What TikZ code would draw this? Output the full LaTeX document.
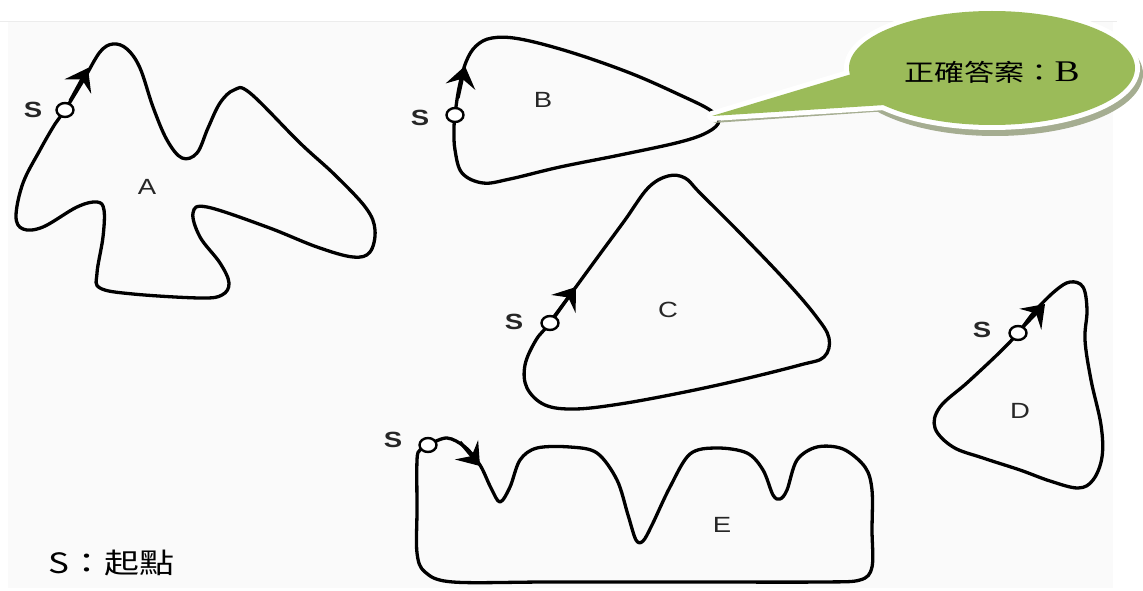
\documentclass[tikz,border=0pt]{standalone}
\usepackage{fontspec}
\setmainfont{Liberation Sans}
\newfontfamily\cjk{Noto Sans CJK TC}
\newfontfamily\serifB{Liberation Serif}
\usetikzlibrary{arrows.meta,shapes.geometric}
\definecolor{callgreen}{RGB}{155,187,89}
\definecolor{callshadow}{RGB}{165,173,145}
\definecolor{framebg}{RGB}{250,250,250}
\definecolor{framelin}{RGB}{236,236,236}
\newcommand\hstretch[1]{\scalebox{1.25}[1]{#1}}
\begin{document}
\begin{tikzpicture}[x=1pt,y=-1pt,
  curve/.style={line width=3.3pt, black, line join=round},
  tipline/.style={line width=3.3pt, black, -{Stealth[length=21pt,width=30pt,inset=8pt]}},
  startpt/.style={ellipse, draw=black, line width=2.4pt, fill=white, minimum width=17pt, minimum height=14pt, inner sep=0pt},
  slabel/.style={font=\fontsize{22}{22}\selectfont\bfseries, text=black!85, inner sep=0pt},
  shapelabel/.style={font=\fontsize{22}{22}\selectfont, text=black!85, inner sep=0pt}]
\useasboundingbox (0,0) rectangle (1143,591);
\fill[framebg] (8,22) rectangle (1113,588);
\draw[framelin, line width=1pt] (0,22) -- (1117,22);

% ---- Shape A
\draw[curve] plot[smooth cycle, tension=0.6] coordinates {
 (65,110) (84,79) (100,52) (113,44) (127,49) (140,68) (153,107) (167,140) (182,158)
 (197,153) (208,128) (220,103) (234,90) (250,93) (300,143) (335,175) (366,208) (375,230)
 (370,252) (353,257) (317,247) (267,227) (207,207) (193,213) (200,237) (220,263) (229,283)
 (222,295) (200,298) (133,294) (100,288) (97,273) (103,237) (104,210) (97,202) (77,207)
 (43,227) (23,229) (16,216) (23,183) (40,150) (55,124)};
\coordinate (aA1) at (70,101); \coordinate (aA2) at (88,68);
\draw[tipline] (aA1) -- (aA2);
\node[startpt] (pA) at (65,110) {};
\node[slabel] (sA) at (33,110) {\hstretch{S}};
\node[shapelabel] (lA) at (147,187) {\hstretch{A}};

% ---- Shape B
\draw[curve] plot[smooth cycle, tension=0.6] coordinates {
 (455,115) (459,88) (466,62) (476,46) (492,38) (520,39) (570,52) (630,73) (680,95)
 (710,110) (719,121) (708,132) (680,142) (620,155) (560,167) (510,179) (483,183)
 (462,173) (455,150) (454,130)};
\coordinate (aB1) at (458,98); \coordinate (aB2) at (465,66);
\draw[tipline] (aB1) -- (aB2);
\node[startpt] (pB) at (455,115) {};
\node[slabel] (sB) at (420,118) {\hstretch{S}};
\node[shapelabel] (lB) at (543,100) {\hstretch{B}};

% ---- Shape C
\draw[curve] plot[smooth cycle, tension=0.6] coordinates {
 (550,323) (573,291) (600,254) (625,220) (648,188) (668,176) (685,178) (700,193)
 (740,233) (785,280) (815,315) (829,338) (824,357) (800,365) (740,380) (680,393)
 (620,404) (575,409) (545,405) (527,388) (525,365) (536,340)};
\coordinate (aC1) at (553,318); \coordinate (aC2) at (576,287);
\draw[tipline] (aC1) -- (aC2);
\node[startpt] (pC) at (550,323) {};
\node[slabel] (sC) at (514,322) {\hstretch{S}};
\node[shapelabel] (lC) at (668,310) {\hstretch{C}};

% ---- Shape D
\draw[curve] plot[smooth cycle, tension=0.6] coordinates {
 (1018,333) (1035,311) (1055,291) (1070,282) (1083,287) (1087,310) (1085,340)
 (1091,380) (1101,425) (1102,457) (1093,480) (1078,488) (1050,481) (1020,470)
 (983,458) (953,447) (935,428) (940,407) (968,382) (1000,352)};
\coordinate (aD1) at (1022,328); \coordinate (aD2) at (1045,304);
\draw[tipline] (aD1) -- (aD2);
\node[startpt] (pD) at (1018,333) {};
\node[slabel] (sD) at (982,330) {\hstretch{S}};
\node[shapelabel] (lD) at (1020,411) {\hstretch{D}};

% ---- Shape E
\draw[curve] plot[smooth cycle, tension=0.55] coordinates {
 (428,445) (447,438) (465,447) (480,465) (491,488) (500,502) (510,487) (520,460)
 (537,448) (570,447) (597,453) (617,480) (628,515) (636,540) (643,541) (652,525)
 (670,487) (690,454) (717,448) (747,453) (763,470) (773,495) (780,499) (787,490)
 (797,460) (817,447) (843,449) (865,467) (872,490) (872,530) (872,567) (860,580)
 (820,582) (700,582) (550,582) (453,582) (425,572) (417,553) (417,510) (417,460) (420,450)};
\coordinate (aE1) at (460,442); \coordinate (aE2) at (480,466);
\draw[tipline] (aE1) -- (aE2);
\node[startpt] (pE) at (428,445) {};
\node[slabel] (sE) at (393,440) {\hstretch{S}};
\node[shapelabel] (lE) at (722,525) {\hstretch{E}};

% ---- Callout
\begin{scope}[shift={(3,6)}]
  \fill[callshadow] (992,68) ellipse [x radius=148pt, y radius=62pt];
  \fill[callshadow, line join=round] (710,117) -- (865,70) -- (885,105) -- cycle;
\end{scope}
\draw[white, line width=10pt] (992,68) ellipse [x radius=143pt, y radius=57pt];
\draw[white, line width=10pt, line join=round] (712,116) -- (865,70) -- (885,105) -- cycle;
\fill[callgreen] (992,68) ellipse [x radius=143pt, y radius=57pt];
\fill[callgreen] (712,116) -- (865,70) -- (885,105) -- cycle;
\node (ans) at (992,72) {\hstretch{\fontsize{24}{24}\cjk 正確答案：\serifB\fontsize{30}{30}\selectfont B}};

% ---- Legend
\node[anchor=west, inner sep=0pt] (legend) at (48,563) {\hstretch{\fontsize{28}{28}\cjk S：起點}};
\end{tikzpicture}
\end{document}
